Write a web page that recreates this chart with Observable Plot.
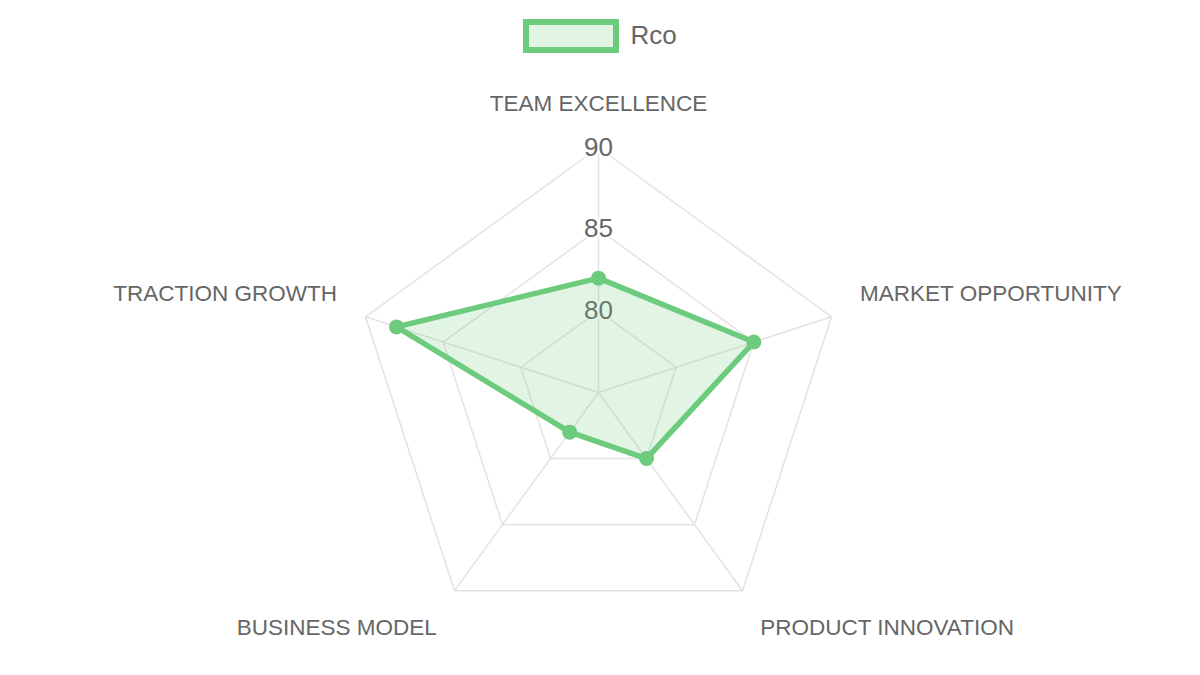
<!DOCTYPE html>
<html>
<head>
<meta charset="utf-8">
<script src="https://cdn.jsdelivr.net/npm/d3@7"></script>
<script src="https://cdn.jsdelivr.net/npm/@observablehq/plot@0.6"></script>
<style>
  html, body { margin: 0; padding: 0; background: #fff; }
  body { width: 1200px; height: 675px; overflow: hidden; font-family: "Liberation Sans", Arial, Helvetica, sans-serif; }
  #legend { height: 70px; display: flex; align-items: center; justify-content: center; }
  #legend .box { width: 84px; height: 22px; border: 6px solid #6dcb7d; background: #e2f5e5; margin-top: 2px; }
  #legend .lbl { margin-left: 11px; font-size: 26px; color: #666; }
  #chart svg { display: block; }
</style>
</head>
<body>
<div id="legend"><div class="box"></div><div class="lbl"></div></div>
<div id="chart"></div>
<script>
// ---- data ----
const axisLabels = ["TEAM EXCELLENCE", "MARKET OPPORTUNITY", "PRODUCT INNOVATION", "BUSINESS MODEL", "TRACTION GROWTH"];
const seriesName = "Rco";
const seriesValues = [82, 85, 80, 78, 88];
const scaleMin = 75;
const scaleMax = 90;
const tickValues = [80, 85, 90];

// ---- build ----
document.querySelector("#legend .lbl").textContent = seriesName;
const green = "#6dcb7d";
const n = axisLabels.length;
const ang = i => (i * 2 * Math.PI) / n;
const px = (v, i) => (v - scaleMin) * Math.sin(ang(i));
const py = (v, i) => (v - scaleMin) * Math.cos(ang(i));

const rings = tickValues.flatMap(t => axisLabels.map((a, i) => ({ t, x: px(t, i), y: py(t, i) })));
const spokes = axisLabels.map((a, i) => ({ x: px(scaleMax, i), y: py(scaleMax, i) }));
const pts = seriesValues.map((v, i) => ({ x: px(v, i), y: py(v, i), v }));
const labR = scaleMax + 1.84;
const labs = axisLabels.map((a, i) => {
  const sx = Math.sin(ang(i));
  const anchor = Math.abs(sx) < 0.01 ? "middle" : sx > 0 ? "start" : "end";
  const top = Math.cos(ang(i)) > -0.1;
  return { text: a, x: px(labR, i), y: py(labR, i), anchor, dy: top ? -14 : 13 };
});
const R = scaleMax - scaleMin;
const cy = 322, cx = 598, rad = 245;

const plot = Plot.plot({
  width: 1200,
  height: 605,
  margin: 0,
  x: { domain: [-R, R], range: [cx - rad, cx + rad], axis: null },
  y: { domain: [-R, R], range: [cy + rad, cy - rad], axis: null },
  style: { fontFamily: "'Liberation Sans', Arial, sans-serif" },
  marks: [
    Plot.line(rings, { x: "x", y: "y", z: "t", curve: "linear-closed", stroke: "#e3e3e3", strokeWidth: 1.5 }),
    Plot.link(spokes, { x1: 0, y1: 0, x2: "x", y2: "y", stroke: "#e3e3e3", strokeWidth: 1.5 }),
    Plot.text(tickValues, { x: 0, y: d => d - scaleMin, text: d => String(d), fontSize: 26, fill: "#666", stroke: "white", strokeOpacity: 0.75, strokeWidth: 5 }),
    Plot.line(pts, { x: "x", y: "y", curve: "linear-closed", fill: green, fillOpacity: 0.2, stroke: green, strokeWidth: 5.5, strokeLinejoin: "round" }),
    Plot.dot(pts, { x: "x", y: "y", r: 7.5, fill: green }),
    ...labs.map(d =>
      Plot.text([d], { x: "x", y: "y", text: "text", textAnchor: d.anchor, dy: d.dy, fontSize: 22.5, fill: "#666" })
    )
  ]
});
document.getElementById("chart").appendChild(plot);
</script>
</body>
</html>
